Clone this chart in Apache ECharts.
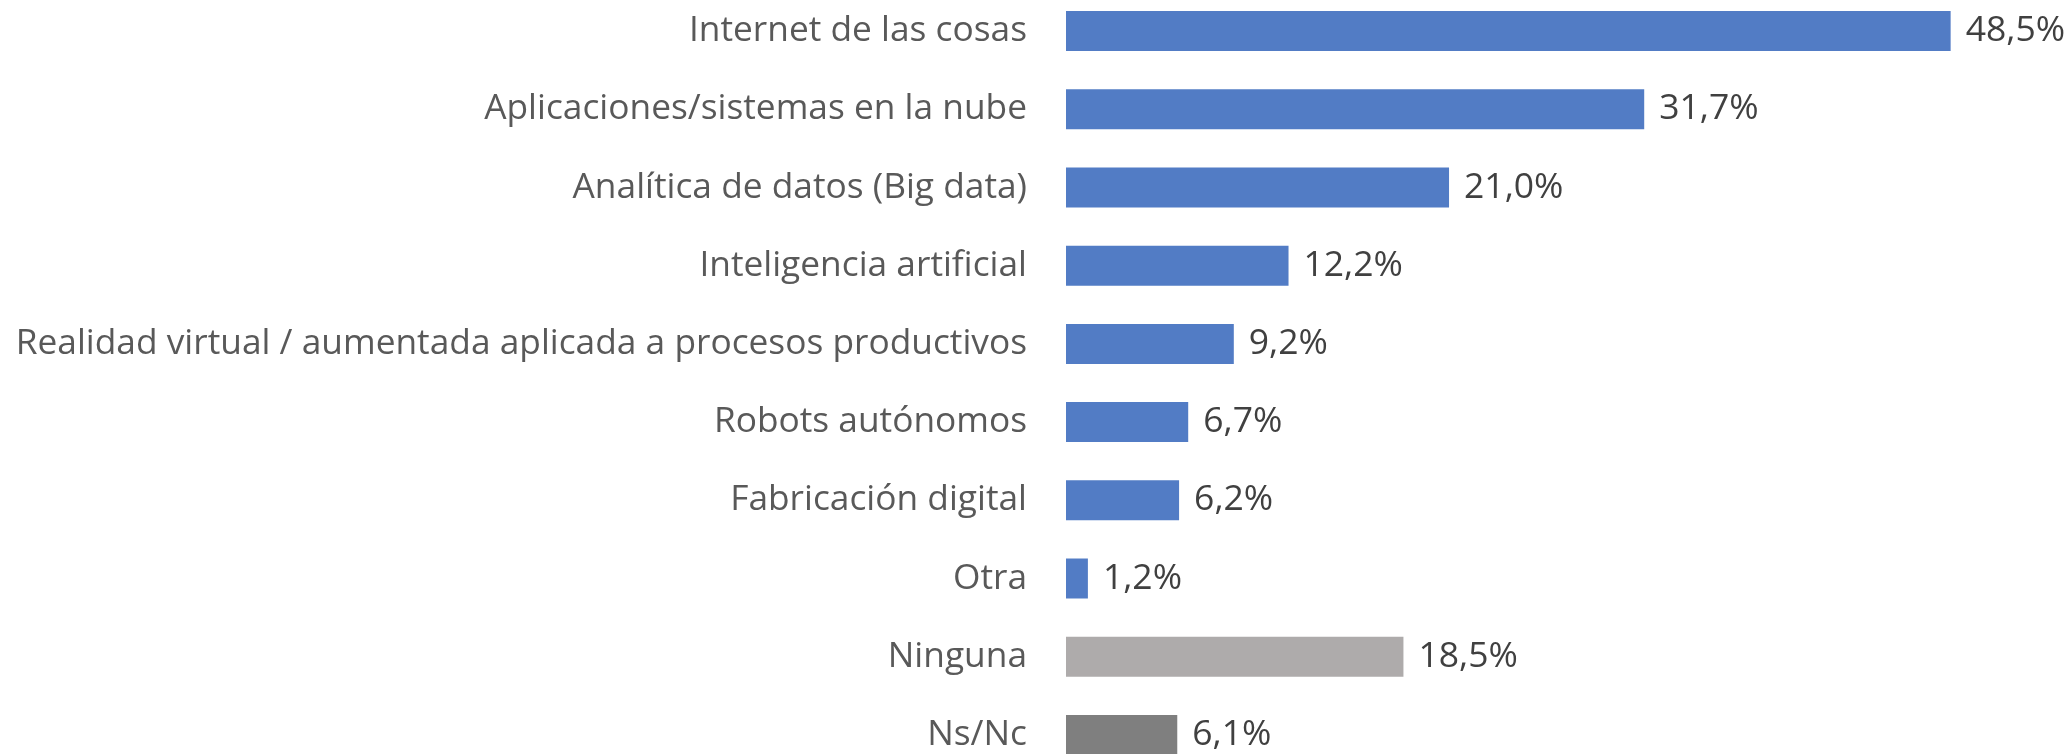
<!DOCTYPE html>
<html>
<head>
<meta charset="utf-8">
<script src="https://cdn.jsdelivr.net/npm/echarts@6/dist/echarts.min.js"></script>
<style>
  html, body { margin: 0; padding: 0; background: #fff; }
  #chart { width: 2072px; height: 754px; }
</style>
</head>
<body>
<div id="chart"></div>
<script>
const categories = [
    'Internet de las cosas',
    'Aplicaciones/sistemas en la nube',
    'Analítica de datos (Big data)',
    'Inteligencia artificial',
    'Realidad virtual / aumentada aplicada a procesos productivos',
    'Robots autónomos',
    'Fabricación digital',
    'Otra',
    'Ninguna',
    'Ns/Nc'
];
const values = [48.5, 31.7, 21.0, 12.2, 9.2, 6.7, 6.2, 1.2, 18.5, 6.1];

const BLUE = '#527cc5';
const LIGHT_GRAY = '#aeabab';
const DARK_GRAY = '#7f7f7f';

function barColor(name) {
    if (name === 'Ninguna') return LIGHT_GRAY;
    if (name === 'Ns/Nc') return DARK_GRAY;
    return BLUE;
}

function formatPct(v) {
    return v.toFixed(1).replace('.', ',') + '%';
}

const chart = echarts.init(document.getElementById('chart'), null, { renderer: 'canvas' });

chart.setOption({
    animation: false,
    backgroundColor: '#fff',
    // last bar is cut by the bottom edge in the original, so let the grid overflow
    grid: { left: 1066, right: 94, top: -8, bottom: -20, outerBoundsMode: 'none', containLabel: false },
    xAxis: {
        type: 'value',
        min: 0,
        max: 50,
        show: false
    },
    yAxis: {
        type: 'category',
        data: categories,
        inverse: true,
        axisLine: { show: false },
        axisTick: { show: false },
        axisLabel: {
            margin: 39,
            color: '#595959',
            fontSize: 35.3,
            fontFamily: 'Open Sans'
        }
    },
    series: [{
        type: 'bar',
        barWidth: 40,
        data: values.map((v, i) => ({
            value: v,
            itemStyle: { color: barColor(categories[i]) }
        })),
        label: {
            show: true,
            position: 'right',
            distance: 15,
            color: '#404040',
            fontSize: 35.5,
            fontFamily: 'Open Sans',
            formatter: (p) => formatPct(p.value)
        }
    }]
});
</script>
</body>
</html>
